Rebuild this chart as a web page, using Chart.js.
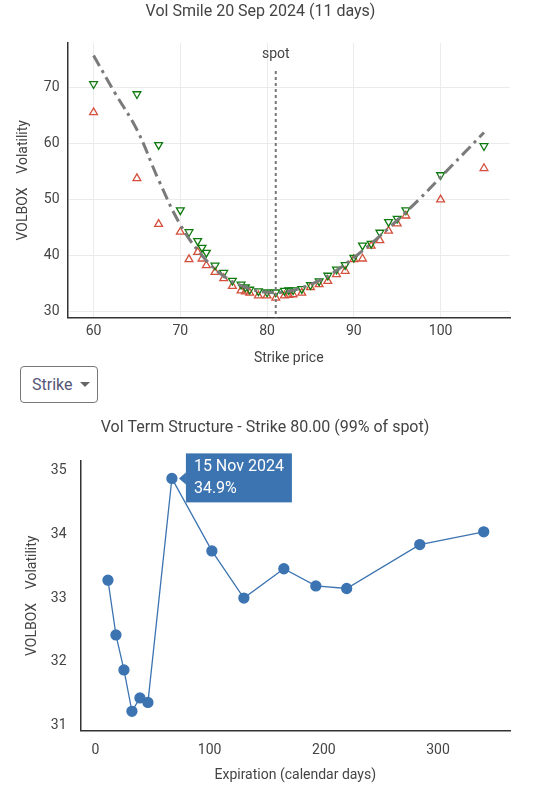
<!DOCTYPE html>
<html>
<head>
<meta charset="utf-8">
<script src="https://cdn.jsdelivr.net/npm/chart.js@4/dist/chart.umd.min.js"></script>
<style>
  body { margin: 0; background: #fff; font-family: Roboto, sans-serif; width: 544px; }
  .box { position: relative; width: 544px; }
  #smileBox { height: 371px; }
  #termBox { height: 385px; }
  .pick { margin: -5px 0 0 20px; width: 78px; height: 37px; border: 1px solid #777; border-radius: 4px;
          box-sizing: border-box; font-size: 16px; color: #557; display: flex; align-items: center; padding-left: 11px; }
  .pick span { margin-left: 8px; border-left: 5px solid transparent; border-right: 5px solid transparent; border-top: 5px solid #666; }
</style>
</head>
<body>
<div class="box" id="smileBox"><canvas id="smile"></canvas></div>
<div class="pick">Strike<span></span></div>
<div class="box" id="termBox"><canvas id="term"></canvas></div>
<script>
const strikes = [60, 65, 67.5, 70, 71, 72, 72.5, 73, 74, 75, 76, 77, 77.5, 78, 79, 80, 81, 82, 82.5, 83, 84, 85, 86, 87, 88, 89, 90, 91, 92, 93, 94, 95, 96, 100, 105];
const askVols = [70.7, 68.9, 59.8, 48.1, 44.2, 42.6, 41.4, 40.5, 38.2, 36.9, 35.5, 34.8, 34.3, 33.9, 33.6, 33.4, 33.4, 33.7, 33.8, 33.8, 34.0, 34.7, 35.4, 36.4, 37.5, 38.3, 39.6, 41.8, 42.1, 44.1, 46.0, 46.6, 48.1, 54.4, 59.6];
const bidVols = [65.6, 53.8, 45.6, 44.2, 39.3, 40.6, 39.4, 38.2, 37.0, 35.9, 34.5, 33.7, 33.5, 33.3, 32.8, 32.8, 32.4, 32.8, 32.9, 33.0, 33.3, 34.3, 34.8, 35.4, 36.6, 37.2, 39.3, 39.4, 41.7, 42.7, 44.4, 45.7, 47.1, 50.0, 55.6];
const fitStrikes = [60, 62.5, 65, 67.5, 70, 72.5, 75, 77.5, 80, 82.5, 85, 87.5, 90, 92.5, 95, 97.5, 100, 102.5, 105];
const fitVols = [75.8, 69.0, 62.5, 53.5, 45.5, 40.0, 36.3, 34.3, 33.4, 33.6, 34.8, 36.8, 39.6, 42.8, 46.3, 50.0, 54.0, 58.0, 62.0];
const spotPrice = 81;

const termDays = [11, 18, 25, 32, 39, 46, 67, 102, 130, 165, 193, 220, 284, 340];
const termVols = [33.28, 32.42, 31.87, 31.22, 31.43, 31.36, 34.88, 33.74, 33.0, 33.46, 33.19, 33.15, 33.84, 34.04];
const tipIndex = 6;
const tipLines = ['15 Nov 2024', '34.9%'];

Chart.defaults.font.family = 'Roboto, sans-serif';
Chart.defaults.color = '#444';
Chart.defaults.animation = false;

const toXY = (xs, ys) => xs.map((x, i) => ({ x, y: ys[i] }));
const txt = '#444';

const spotPlugin = {
    id: 'spot',
    afterDatasetsDraw(chart) {
        const { ctx, scales: { x, y } } = chart;
        const px = x.getPixelForValue(spotPrice);
        ctx.save();
        ctx.strokeStyle = '#777';
        ctx.lineWidth = 2;
        ctx.setLineDash([3, 3]);
        ctx.beginPath();
        ctx.moveTo(px, y.getPixelForValue(73));
        ctx.lineTo(px, y.bottom);
        ctx.stroke();
        ctx.fillStyle = txt;
        ctx.font = '14px Roboto';
        ctx.textAlign = 'center';
        ctx.fillText('spot', px, y.getPixelForValue(75.4));
        ctx.restore();
    }
};

new Chart(document.getElementById('smile'), {
    type: 'scatter',
    data: {
        datasets: [
            { data: toXY(fitStrikes, fitVols), showLine: true, borderColor: '#7a7a7a', borderWidth: 3,
              borderDash: [12, 5, 3, 5], pointRadius: 0, tension: 0.4 },
            { data: toXY(strikes, askVols), pointStyle: 'triangle', rotation: 180, pointRadius: 4.5,
              borderColor: '#0f7a0f', backgroundColor: 'rgba(0,0,0,0)', borderWidth: 1.3 },
            { data: toXY(strikes, bidVols), pointStyle: 'triangle', pointRadius: 4.5,
              borderColor: '#d4503c', backgroundColor: 'rgba(0,0,0,0)', borderWidth: 1.3 }
        ]
    },
    options: {
        responsive: true, maintainAspectRatio: false,
        layout: { padding: { left: 11, right: 34, top: 2, bottom: 0 } },
        plugins: {
            legend: { display: false }, tooltip: { enabled: false },
            title: { display: true, text: 'Vol Smile 20 Sep 2024 (11 days)', font: { size: 16, weight: 'normal' }, color: txt, padding: { top: 0, bottom: 22 } }
        },
        scales: {
            x: { min: 57, max: 108, afterBuildTicks: s => { s.ticks = [60, 70, 80, 90, 100].map(v => ({ value: v })); },
                 grid: { color: '#ebebeb', drawTicks: false }, border: { color: '#333', width: 1.5 },
                 ticks: { font: { size: 14 }, color: txt, padding: 6 },
                 title: { display: true, text: 'Strike price', font: { size: 14 }, color: txt } },
            y: { min: 28.9, max: 78, afterBuildTicks: s => { s.ticks = [30, 40, 50, 60, 70].map(v => ({ value: v })); },
                 grid: { color: '#ebebeb', drawTicks: false }, border: { color: '#333', width: 1.5 },
                 ticks: { font: { size: 14 }, color: txt, padding: 8 },
                 title: { display: true, text: 'VOLBOX    Volatility', font: { size: 14 }, color: txt } }
        }
    },
    plugins: [spotPlugin]
});

const tipPlugin = {
    id: 'tip',
    afterDatasetsDraw(chart) {
        const pt = chart.getDatasetMeta(0).data[tipIndex];
        const { ctx } = chart;
        const x0 = pt.x + 14, y0 = pt.y - 25, w = 106, h = 49;
        ctx.save();
        ctx.fillStyle = '#3c74b1';
        ctx.fillRect(x0, y0, w, h);
        ctx.beginPath();
        ctx.moveTo(x0, pt.y - 6);
        ctx.lineTo(x0 - 7, pt.y);
        ctx.lineTo(x0, pt.y + 6);
        ctx.fill();
        ctx.fillStyle = '#fff';
        ctx.font = '16px Roboto';
        ctx.textBaseline = 'middle';
        ctx.fillText(tipLines[0], x0 + 8, y0 + 14);
        ctx.fillText(tipLines[1], x0 + 8, y0 + 36);
        ctx.restore();
    }
};

new Chart(document.getElementById('term'), {
    type: 'scatter',
    data: {
        datasets: [{ data: toXY(termDays, termVols), showLine: true, borderColor: '#3c74b1', borderWidth: 1.3,
                     pointRadius: 5, backgroundColor: '#3c74b1', pointBorderColor: '#3c74b1' }]
    },
    options: {
        responsive: true, maintainAspectRatio: false,
        layout: { padding: { left: 20, right: 34, top: 0, bottom: 0 } },
        plugins: {
            legend: { display: false }, tooltip: { enabled: false },
            title: { display: true, text: 'Vol Term Structure - Strike 80.00 (99% of spot)', font: { size: 16, weight: 'normal' }, color: txt, padding: { top: 15, bottom: 24 } }
        },
        scales: {
            x: { min: -13, max: 363, afterBuildTicks: s => { s.ticks = [0, 100, 200, 300].map(v => ({ value: v })); },
                 grid: { display: false }, border: { color: '#333', width: 1.5 },
                 ticks: { font: { size: 14 }, color: txt, padding: 4 },
                 title: { display: true, text: 'Expiration (calendar days)', font: { size: 14 }, color: txt } },
            y: { min: 30.92, max: 35.15, afterBuildTicks: s => { s.ticks = [31, 32, 33, 34, 35].map(v => ({ value: v })); },
                 grid: { display: false }, border: { color: '#333', width: 1.5 },
                 ticks: { font: { size: 14 }, color: txt, padding: 6 },
                 title: { display: true, text: 'VOLBOX    Volatility', font: { size: 14 }, color: txt } }
        }
    },
    plugins: [tipPlugin]
});
</script>
</body>
</html>
